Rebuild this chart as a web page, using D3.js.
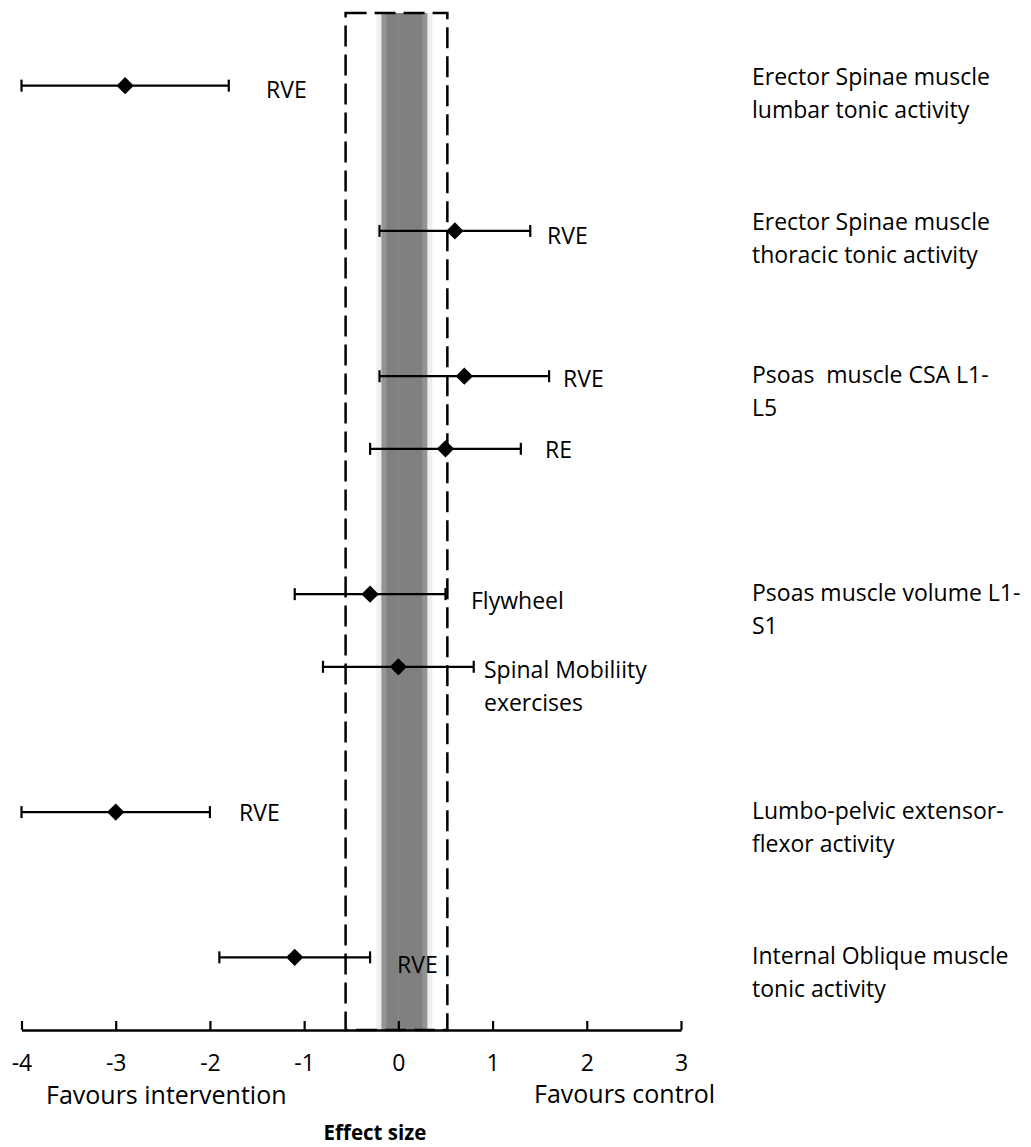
<!DOCTYPE html>
<html>
<head>
<meta charset="utf-8">
<script src="https://cdn.jsdelivr.net/npm/d3@7"></script>
<style>
  html, body { margin: 0; padding: 0; background: #fff; }
  svg text { font-family: "Open Sans", "Noto Sans", sans-serif; fill: #000; }
</style>
</head>
<body>
<svg id="chart" width="1031" height="1147"></svg>
<script>
// Row positions on the vertical scale (0 = axis), estimates and 95% CI
const rowY      = [13, 11, 9, 8, 6, 5, 3, 1];
const estimates = [-2.9, 0.6, 0.7, 0.5, -0.3, 0.0, -3.0, -1.1];
const lower     = [-4.0, -0.2, -0.2, -0.3, -1.1, -0.8, -4.0, -1.9];
const upper     = [-1.8, 1.4, 1.6, 1.3, 0.5, 0.8, -2.0, -0.3];
const tags      = [["RVE"], ["RVE"], ["RVE"], ["RE"], ["Flywheel"],
                   ["Spinal Mobiliity", "exercises"], ["RVE"], ["RVE"]];
const tagX      = [266, 547, 563, 545, 471, 484, 239, 397];
const tagDy     = [3, 4, 2, 0, 6, 2, 0, 7];

// Outcome names on the right, with their vertical anchor (scale units)
const outcomeY     = [12.9, 10.9, 8.8, 5.8, 2.8, 0.8];
const outcomeLines = [
  ["Erector Spinae muscle", "lumbar tonic activity"],
  ["Erector Spinae muscle", "thoracic tonic activity"],
  ["Psoas  muscle CSA L1-", "L5"],
  ["Psoas muscle volume L1-", "S1"],
  ["Lumbo-pelvic extensor-", "flexor activity"],
  ["Internal Oblique muscle", "tonic activity"]
];

// Reference bands (effect-size units)
const dashedBox   = [-0.56, 0.52];
const lightBand   = [-0.234, 0.361];
const midBand     = [-0.18, 0.308];
const darkBand    = [-0.127, 0.255];

const xTicks = [-4, -3, -2, -1, 0, 1, 2, 3];
const xDomain = [-4, 3];
const yDomain = [0, 14];

const svg = d3.select("#chart");
const x = d3.scaleLinear().domain(xDomain).range([21.5, 681]);
const y = d3.scaleLinear().domain(yDomain).range([1030, 13]);

// Shaded band around zero
const bands = svg.append("g");
[[lightBand, "#efefef"], [midBand, "#949494"], [darkBand, "#808080"]].forEach(([b, c]) => {
  bands.append("rect")
    .attr("x", x(b[0])).attr("width", x(b[1]) - x(b[0]))
    .attr("y", y(14)).attr("height", y(0) - y(14))
    .attr("fill", c);
});
bands.append("line")
  .attr("x1", x(0)).attr("x2", x(0)).attr("y1", y(14)).attr("y2", y(0))
  .attr("stroke", "#8c8c8c").attr("stroke-width", 1);

// Dashed box
svg.append("rect")
  .attr("x", x(dashedBox[0])).attr("width", x(dashedBox[1]) - x(dashedBox[0]))
  .attr("y", y(14)).attr("height", y(0) - y(14))
  .attr("fill", "none").attr("stroke", "#000")
  .attr("stroke-width", 2.5).attr("stroke-dasharray", "21,8");

// Error bars
const rows = rowY.map((r, i) => ({ r, est: estimates[i], lo: lower[i], hi: upper[i], tag: tags[i], tx: tagX[i], dy: tagDy[i] }));
const g = svg.append("g");
const bar = g.selectAll("g.row").data(rows).join("g").attr("class", "row");
bar.append("line")
  .attr("x1", d => x(d.lo)).attr("x2", d => x(d.hi))
  .attr("y1", d => y(d.r)).attr("y2", d => y(d.r))
  .attr("stroke", "#000").attr("stroke-width", 2.2);
["lo", "hi"].forEach(k => {
  bar.append("line")
    .attr("x1", d => x(d[k])).attr("x2", d => x(d[k]))
    .attr("y1", d => y(d.r) - 6).attr("y2", d => y(d.r) + 6)
    .attr("stroke", "#000").attr("stroke-width", 2.2);
});
const diamond = d3.symbol().type(d3.symbolSquare).size(150);
bar.append("path")
  .attr("d", diamond)
  .attr("transform", d => `translate(${x(d.est)},${y(d.r)}) rotate(45)`)
  .attr("fill", "#000");

// Method tags next to each bar
bar.append("text")
  .attr("x", d => d.tx)
  .attr("y", d => y(d.r) + d.dy)
  .attr("font-size", 23)
  .attr("dominant-baseline", "central")
  .selectAll("tspan").data(d => d.tag).join("tspan")
  .attr("x", function() { return this.parentNode.getAttribute("x"); })
  .attr("dy", (t, i) => i === 0 ? 0 : 33)
  .text(t => t);

// Outcome names
const out = svg.append("g");
outcomeLines.forEach((lines, i) => {
  const t = out.append("text")
    .attr("x", 752).attr("y", y(outcomeY[i]) - 17)
    .attr("font-size", 23)
    .attr("dominant-baseline", "central")
    .style("white-space", "pre");
  lines.forEach((l, j) => t.append("tspan").attr("x", 752).attr("dy", j === 0 ? 0 : 33).text(l));
});

// X axis with ticks pointing up
const axis = svg.append("g").attr("transform", `translate(0,${y(0)})`)
  .call(d3.axisBottom(x).tickValues(xTicks).tickFormat(d => String(d))
    .tickSizeInner(-9).tickSizeOuter(0).tickPadding(25));
axis.select(".domain").attr("stroke", "#000").attr("stroke-width", 2.5);
axis.selectAll(".tick line").attr("stroke", "#000").attr("stroke-width", 2.2);
axis.selectAll(".tick text")
  .attr("font-size", 23)
  .attr("font-family", "\"Open Sans\", sans-serif")
  .attr("fill", "#000");

// Direction labels and title
svg.append("text").attr("x", 46).attr("y", 1094).attr("font-size", 25)
  .attr("dominant-baseline", "central").text("Favours intervention");
svg.append("text").attr("x", 534).attr("y", 1093).attr("font-size", 25)
  .attr("dominant-baseline", "central").text("Favours control");
svg.append("text").attr("x", 375).attr("y", 1140).attr("font-size", 20.5)
  .attr("font-weight", "bold").attr("text-anchor", "middle")
  .text("Effect size");
</script>
</body>
</html>
